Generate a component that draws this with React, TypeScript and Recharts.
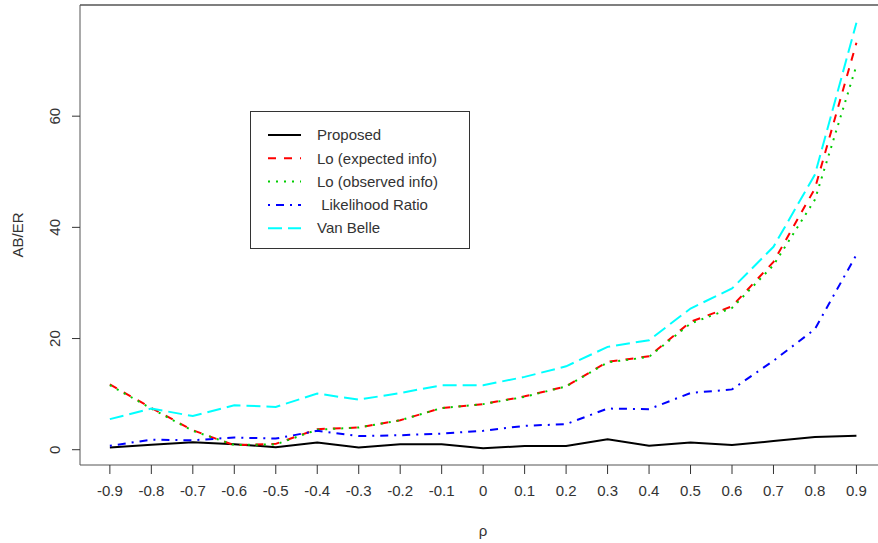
import React from 'react';
import { LineChart, Line, XAxis, YAxis, ReferenceLine } from 'recharts';

const rho = [-0.9, -0.8, -0.7, -0.6, -0.5, -0.4, -0.3, -0.2, -0.1, 0, 0.1, 0.2, 0.3, 0.4, 0.5, 0.6, 0.7, 0.8, 0.9];
const proposed = [0.4, 0.9, 1.35, 1.0, 0.45, 1.3, 0.4, 0.97, 0.97, 0.25, 0.66, 0.66, 1.9, 0.7, 1.3, 0.85, 1.56, 2.3, 2.5];
const loExpected = [11.75, 7.5, 3.5, 0.8, 1.05, 3.7, 4.0, 5.3, 7.5, 8.2, 9.6, 11.4, 15.8, 16.8, 23.0, 25.8, 33.8, 47.0, 73.2];
const loObserved = [11.6, 7.4, 3.4, 0.85, 0.95, 3.6, 4.0, 5.3, 7.5, 8.2, 9.5, 11.4, 15.7, 16.7, 22.7, 25.5, 33.2, 45.0, 69.1];
const likelihoodRatio = [0.7, 1.8, 1.7, 2.2, 2.0, 3.4, 2.46, 2.6, 2.9, 3.4, 4.3, 4.6, 7.4, 7.3, 10.2, 10.85, 16.0, 21.7, 35.1];
const vanBelle = [5.5, 7.4, 6.05, 8.0, 7.7, 10.1, 9.0, 10.2, 11.6, 11.6, 13.1, 15.0, 18.5, 19.7, 25.4, 29.0, 36.5, 49.5, 76.8];

const xTicks = [-0.9, -0.8, -0.7, -0.6, -0.5, -0.4, -0.3, -0.2, -0.1, 0, 0.1, 0.2, 0.3, 0.4, 0.5, 0.6, 0.7, 0.8, 0.9];
const yTicks = [0, 20, 40, 60];

const seriesNames = ['Proposed', 'Lo (expected info)', 'Lo (observed info)', ' Likelihood Ratio', 'Van Belle'];
const seriesKeys = ['proposed', 'loExp', 'loObs', 'lr', 'vb'];
const seriesColors = ['#000000', '#FF0000', '#00CD00', '#0000FF', '#00FFFF'];
const seriesDash = ['', '8 8', '2 6', '2 6 8 6', '14 6'];

const data = rho.map((r, i) => ({
  rho: r,
  proposed: proposed[i],
  loExp: loExpected[i],
  loObs: loObserved[i],
  lr: likelihoodRatio[i],
  vb: vanBelle[i],
}));

const FONT = '"Liberation Sans", Arial, sans-serif';
const TEXT = '#333333';
const FS = 15;

const YTick = (props: any) => {
  const { x, y, payload } = props;
  const bx = x - 12;
  return (
    <text x={bx} y={y} transform={`rotate(-90 ${bx} ${y})`} textAnchor="middle" fill={TEXT} fontSize={FS} fontFamily={FONT}>
      {payload.value}
    </text>
  );
};

const XTick = (props: any) => {
  const { x, y, payload } = props;
  const v = Math.round(payload.value * 10) / 10;
  return (
    <text x={x} y={y} dy={22} textAnchor="middle" fill={TEXT} fontSize={FS} fontFamily={FONT}>
      {String(v)}
    </text>
  );
};

export default function App() {
  return (
    <div style={{ position: 'absolute', left: 0, top: 0, width: 878, height: 543, background: '#fff' }}>
      <LineChart width={878} height={543} data={data} margin={{ top: 5, right: 0, left: 0, bottom: 0 }}>
        <XAxis
          dataKey="rho"
          type="number"
          domain={[-0.972, 0.952]}
          ticks={xTicks}
          allowDataOverflow
          height={78}
          tickSize={9}
          tickMargin={0}
          tick={<XTick />}
          stroke="#555"
          tickLine={{ stroke: '#333' }}
          axisLine={{ stroke: '#555' }}
          label={(p: any) => {
            const vb = p.viewBox || {};
            const cx = (vb.x ?? 80) + (vb.width ?? 798) / 2 + 4;
            return (
              <text x={cx} y={536} textAnchor="middle" fill={TEXT} fontSize={FS} fontFamily={FONT}>
                ρ
              </text>
            );
          }}
        />
        <YAxis
          type="number"
          domain={[-2.75, 80]}
          ticks={yTicks}
          allowDataOverflow
          width={80}
          tickSize={8}
          tickMargin={0}
          tick={<YTick />}
          stroke="#555"
          tickLine={{ stroke: '#333' }}
          axisLine={{ stroke: '#555' }}
          label={(p: any) => {
            const vb = p.viewBox || {};
            const cy = (vb.y ?? 5) + (vb.height ?? 460) / 2;
            return (
              <text x={23} y={cy} transform={`rotate(-90 23 ${cy})`} textAnchor="middle" fill={TEXT} fontSize={FS} fontFamily={FONT}>
                AB/ER
              </text>
            );
          }}
        />
        <ReferenceLine y={80} stroke="#555" strokeWidth={1.5} ifOverflow="visible" />
        {seriesKeys.map((k, i) => (
          <Line
            key={k}
            type="linear"
            dataKey={k}
            name={seriesNames[i]}
            stroke={seriesColors[i]}
            strokeWidth={2}
            strokeDasharray={seriesDash[i] || undefined}
            dot={false}
            activeDot={false}
            isAnimationActive={false}
          />
        ))}
      </LineChart>
      <div
        style={{
          position: 'absolute',
          left: 250,
          top: 111,
          width: 220,
          height: 138,
          boxSizing: 'border-box',
          border: '1px solid #333',
          background: '#fff',
        }}
      >
        <svg width={218} height={136} style={{ display: 'block' }}>
          {seriesNames.map((n, i) => {
            const cy = 23 + i * 23.3;
            return (
              <g key={n}>
                <line x1={17} x2={50} y1={cy} y2={cy} stroke={seriesColors[i]} strokeWidth={2} strokeDasharray={seriesDash[i] || undefined} />
                <text x={66} y={cy} dy="0.35em" fill={TEXT} fontSize={FS} fontFamily={FONT} style={{ whiteSpace: 'pre' }}>
                  {n}
                </text>
              </g>
            );
          })}
        </svg>
      </div>
    </div>
  );
}
